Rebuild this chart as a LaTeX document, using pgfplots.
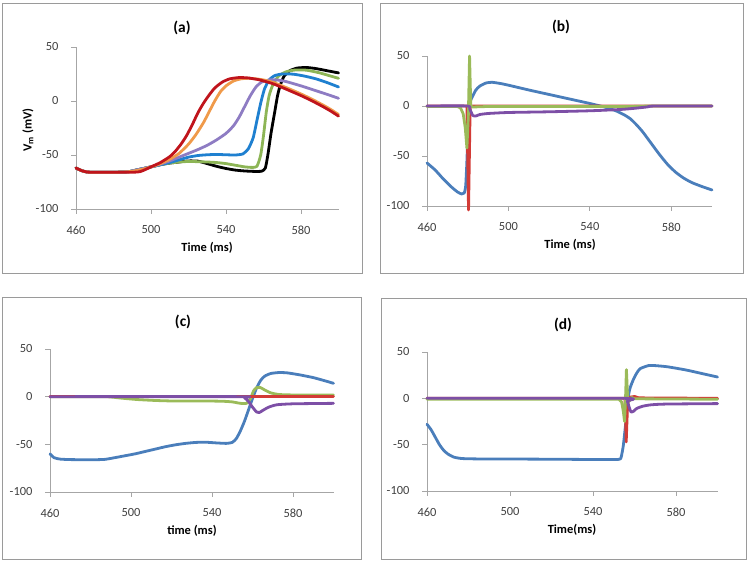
\documentclass[border=0pt]{standalone}
\usepackage{pgfplots}
\pgfplotsset{compat=1.18}
\usepackage{fontspec}
\setmainfont{Carlito}
\definecolor{axgray}{HTML}{A6A6A6}
\definecolor{boxgray}{HTML}{9A9A9A}
\definecolor{tickgray}{HTML}{404040}
\definecolor{aBlack}{HTML}{000000}
\definecolor{aGreen}{HTML}{8DB556}
\definecolor{aBlue}{HTML}{1F80D0}
\definecolor{aPurple}{HTML}{8E7CC3}
\definecolor{aOrange}{HTML}{F09A4A}
\definecolor{aRed}{HTML}{C0141C}
\definecolor{bBlue}{HTML}{4A7EBB}
\definecolor{bRed}{HTML}{D33B36}
\definecolor{bGreen}{HTML}{9BBB59}
\definecolor{bPurple}{HTML}{7D4FA6}
\pgfplotsset{
  panel/.style={
    scale only axis, anchor=south west, clip=false,
    axis lines*=left,
    axis line style={draw=axgray, line width=0.8bp},
    xmin=460, xmax=600, ymin=-100, ymax=50,
    xtick={460,500,540,580}, xticklabels={460,500,540,580},
    ytick={-100,-50,0,50}, yticklabels={-100,-50,0,50},
    tick align=outside, major tick length=5bp,
    tick style={draw=axgray, line width=0.8bp},
    ticklabel style={font=\fontsize{12.5}{15}\selectfont, text=tickgray},
    x tick label style={anchor=center, yshift=-16bp},
    y tick label style={anchor=east, xshift=-9bp},
    every axis plot/.append style={line width=2.8bp, line join=round, line cap=round, no marks},
  },
  sm/.style={smooth, tension=0.35},
}
\newcommand{\ttl}{\fontsize{15.5}{18}\selectfont\bfseries}
\newcommand{\lbl}{\fontsize{12.5}{15}\selectfont\bfseries}
\begin{document}
\begin{tikzpicture}[x=1bp,y=1bp]
\path[use as bounding box] (0,0) rectangle (750,564);
% panel boxes
\draw[boxgray, line width=0.9bp] (2,291) rectangle (362,561);
\draw[boxgray, line width=0.9bp] (380,291) rectangle (743,561);
\draw[boxgray, line width=0.9bp] (2,5) rectangle (361,267);
\draw[boxgray, line width=0.9bp] (381,5) rectangle (746,266);
% titles and labels
\node[font=\ttl] at (182,536) {(a)};
\node[font=\ttl] at (561,537) {(b)};
\node[font=\ttl] at (183,242) {(c)};
\node[font=\ttl] at (563,239) {(d)};
\node[font=\lbl] at (207,316) {Time (ms)};
\node[font=\lbl] at (570,319) {Time (ms)};
\node[font=\lbl] at (192,33) {time (ms)};
\node[font=\lbl] at (572,34) {Time(ms)};
\node[font=\lbl, rotate=90] at (28,434) {V\textsubscript{m} (mV)};

% ---------------- (a)
\begin{axis}[panel, at={(76bp,355bp)}, width=262.5bp, height=162bp]
\addplot[aBlack, sm] coordinates {(460,-62)(463,-64.5)(466,-65.8)(470,-66)(480,-66)(488,-65.5)(492,-64)(496,-62.5)(500,-61)(505,-59)(510,-57.5)(515,-56.5)(520,-55.5)(525,-55.7)(530,-58)(535,-60.5)(540,-62.5)(545,-64)(550,-64.8)(555,-65.2)(559,-65)(561,-62)(562.5,-48)(564,-30)(566,-10)(567.5,5)(569,15)(571,23)(574,28)(578,30.5)(583,31)(588,30)(594,28)(600,26)};
\addplot[aGreen, sm] coordinates {(460,-62)(463,-64.5)(466,-65.8)(470,-66)(480,-66)(488,-65.5)(492,-64)(496,-62.5)(500,-61)(505,-59)(510,-57.5)(515,-56.5)(520,-56)(525,-56.2)(530,-56.5)(535,-57)(540,-58)(545,-59.5)(550,-61)(554,-61.5)(556.5,-60.5)(558.5,-50)(560,-32)(561.5,-10)(563,5)(565,15)(568,23)(572,27)(577,28.7)(583,28.5)(590,26)(595,23.5)(600,21)};
\addplot[aBlue, sm] coordinates {(460,-62)(463,-64.5)(466,-65.8)(470,-66)(480,-66)(488,-65.5)(492,-64)(496,-62.5)(500,-61)(505,-59)(510,-57)(515,-54.5)(520,-52)(525,-50.5)(530,-49.8)(535,-49.5)(540,-49.8)(545,-50)(549,-49)(552,-44)(554.5,-34)(556.5,-18)(558.5,-2)(560.5,11)(563,19.5)(566,23.5)(570,25)(576,24.8)(582,23)(588,20.5)(594,17)(600,13)};
\addplot[aPurple, sm] coordinates {(460,-62)(463,-64.5)(466,-65.8)(470,-66)(480,-66)(488,-65.5)(492,-64)(496,-62.5)(500,-61)(505,-58.5)(510,-55.5)(515,-52)(520,-48.5)(525,-45)(530,-41)(535,-36)(540,-30)(544,-23)(547,-15)(550,-5)(553,5)(556,13)(559,17.5)(563,19.5)(567,19.5)(572,18)(580,14)(588,9.5)(595,5.5)(600,2.5)};
\addplot[aOrange, sm] coordinates {(460,-62)(463,-64.5)(466,-65.8)(470,-66)(480,-66)(488,-65.5)(492,-64.5)(496,-63)(500,-61)(505,-58)(510,-54)(515,-48.5)(520,-40)(524,-31)(528,-20)(531,-10)(534,0)(537,8.5)(540,14)(544,18.5)(548,20.5)(552,21)(556,20.5)(560,19.5)(565,17.3)(572,12.5)(580,6.5)(586,1.5)(592,-4)(596,-8)(600,-12.5)};
\addplot[aRed, sm] coordinates {(460,-62)(463,-64.5)(466,-65.8)(470,-66)(480,-66)(490,-66)(494,-65.5)(497,-63.5)(500,-61)(505,-57)(510,-51.5)(513,-46.5)(516,-40)(519,-32)(522,-22)(525,-11)(528,-2)(531,5.5)(534,12)(538,17.5)(542,20.5)(547,21.7)(552,21.3)(558,19.5)(565,16)(572,11)(580,5)(586,0)(592,-5.5)(596,-9.5)(600,-14)};
\end{axis}

% ---------------- (b)
\begin{axis}[panel, at={(427bp,358bp)}, width=285bp, height=150bp]
\addplot[bBlue, sm] coordinates {(460,-57)(464,-64)(468,-73)(472,-81)(475,-86)(477,-88)(478.3,-87)(479,-80)(479.6,-55)(480.1,-25)(480.6,-3)(481.3,5)(482.5,10)(484,16)(486,20)(489,23)(492,23.7)(496,22.5)(500,20.8)(510,16)(520,11.5)(530,7)(540,2.5)(548,-1.5)(553,-5)(557,-9)(560,-13)(563,-19)(566,-26)(570,-37)(574,-48)(578,-58)(582,-66)(586,-72)(590,-76.5)(595,-80.5)(600,-84)};
\addplot[bRed] coordinates {(460,0)(479.6,0)(480.4,-104)(481.2,0)(600,0)};
\addplot[bGreen] coordinates {(460,-0.5)(475,-0.5)(476.5,-2)(477.8,-8)(478.8,-22)(479.6,-42)(480.3,-10)(480.9,50)(481.5,0)(482.5,-1)(490,-0.5)(560,-0.5)(570,0)(600,0)};
\addplot[bPurple, sm] coordinates {(460,0)(479.8,0)(481,-3)(482.5,-9.5)(484,-10)(486,-8.5)(490,-7.5)(500,-6.5)(520,-5.8)(540,-4.8)(555,-3.5)(562,-2.3)(568,-1)(572,0)(600,0)};
\end{axis}

% ---------------- (c)
\begin{axis}[panel, at={(50bp,72bp)}, width=283.5bp, height=143bp]
\addplot[bBlue, sm] coordinates {(460,-60)(462,-64)(465,-65.5)(470,-66)(480,-66.2)(487,-65.8)(492,-64)(497,-62)(502,-60)(507,-57.5)(512,-55)(517,-52.5)(522,-50.5)(527,-49)(532,-48)(537,-47.8)(542,-48.5)(547,-49)(550,-48)(552,-44)(554,-36)(556,-26)(558,-14)(560,-2)(562,9)(564,17)(566,21.5)(569,24.3)(573,25.3)(577,25)(583,23)(590,20)(596,16.5)(600,14)};
\addplot[bGreen, sm] coordinates {(460,0)(487,0)(495,-1.5)(503,-3)(512,-4)(520,-4.5)(535,-4.5)(545,-4.8)(550,-5.5)(554,-7)(557,-7)(559,-2)(560.5,6)(562,9.5)(564,9.5)(566,7)(569,4)(573,2.3)(580,1.8)(600,1.7)};
\addplot[bRed] coordinates {(460,0)(600,0)};
\addplot[bPurple, sm] coordinates {(460,0)(554,0)(556,-1)(558,-5)(560,-11)(562,-16)(563.5,-16.5)(565,-14.5)(568,-11)(572,-8.5)(580,-7.5)(600,-7)};
\end{axis}

% ---------------- (d)
\begin{axis}[panel, at={(427bp,73bp)}, width=290.5bp, height=139bp]
\addplot[bBlue, sm] coordinates {(460,-28)(462,-34)(464,-42)(466,-50)(468,-56)(470,-60)(473,-63.5)(477,-65)(485,-65.4)(500,-65.5)(520,-65.7)(540,-66)(552,-66)(553.5,-64)(554.6,-51)(555.8,-26)(557,2)(558,12)(559.4,20)(561,27)(562.7,32)(566.7,35.3)(570,35.3)(576,34)(585,30.5)(593,26.5)(600,23)};
\addplot[bRed] coordinates {(460,0)(555.4,0)(556,-47)(556.6,-10)(557.2,1)(560,2)(562,0.5)(600,0)};
\addplot[bGreen] coordinates {(460,-1)(470,-1)(552.5,-1)(553.8,-4)(554.6,-14)(555.2,-25)(555.6,-5)(556.1,31)(556.7,0)(557.5,-3)(558.5,1)(560,-0.5)(600,-1)};
\addplot[bPurple, sm] coordinates {(460,0)(555,0)(556.5,-3)(557.5,-10)(558.3,-14.7)(559.5,-14)(561,-11)(564,-8.5)(568,-7)(575,-6.2)(600,-5.7)};
\end{axis}
\end{tikzpicture}
\end{document}
